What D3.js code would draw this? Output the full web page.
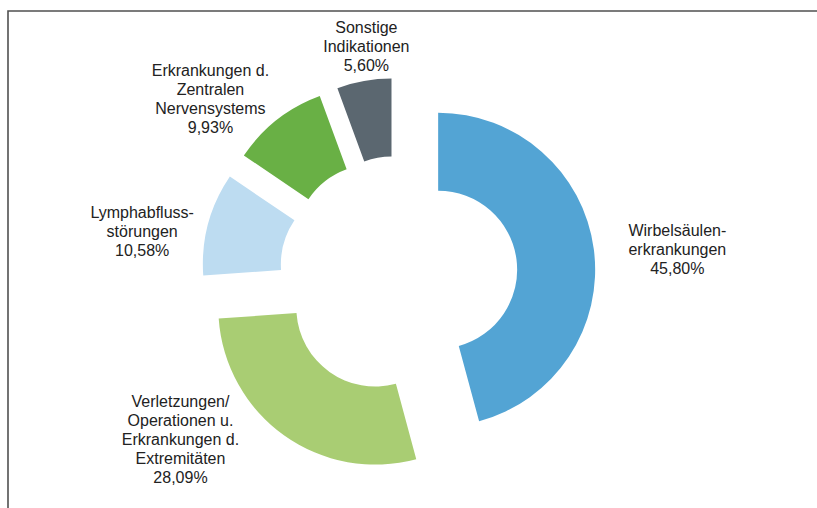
<!DOCTYPE html>
<html>
<head>
<meta charset="utf-8">
<script src="https://cdn.jsdelivr.net/npm/d3@7"></script>
<style>
  html, body { margin: 0; padding: 0; background: #fff; }
  svg { display: block; }
  text { font-family: Arial, "Liberation Sans", sans-serif; font-size: 16px; fill: #222; }
</style>
</head>
<body>
<div id="chart"></div>
<script>
// Indikationen, Reihenfolge im Uhrzeigersinn ab 12 Uhr
const categories = [
  ["Wirbelsäulen-", "erkrankungen"],
  ["Verletzungen/", "Operationen u.", "Erkrankungen d.", "Extremitäten"],
  ["Lymphabfluss-", "störungen"],
  ["Erkrankungen d.", "Zentralen", "Nervensystems"],
  ["Sonstige", "Indikationen"]
];
const values = [45.80, 28.09, 10.58, 9.93, 5.60];
const valueLabels = ["45,80%", "28,09%", "10,58%", "9,93%", "5,60%"];
const colors = ["#53a4d4", "#a9cd73", "#bddcf1", "#69b045", "#5b6770"];

// Beschriftungs-Lage (Winkel in Grad, Abstand vom Mittelpunkt)
const labelAngle = [84.8, 233, 279.6, 313.2, 352];
const labelRadius = [280, 273, 260, 258, 231];

const width = 817, height = 508;
const cx = 398.5, cy = 275;
const outerR = 157, innerR = 79, explode = 40;
const lineH = 19;

const svg = d3.select("#chart").append("svg")
  .attr("width", width).attr("height", height);

// Rahmen (oben + links)
svg.append("path")
  .attr("d", `M8,${height} L8,11 L${width},11`)
  .attr("fill", "none")
  .attr("stroke", "#505050")
  .attr("stroke-width", 1.6);

const pie = d3.pie().sort(null).value(d => d);
const arcs = pie(values);
const arc = d3.arc().innerRadius(innerR).outerRadius(outerR);

const g = svg.append("g").attr("transform", `translate(${cx},${cy})`);

// Segmente, jeweils entlang der Winkelhalbierenden herausgezogen
g.selectAll("path.slice")
  .data(arcs)
  .enter().append("path")
  .attr("class", "slice")
  .attr("fill", (d, i) => colors[i])
  .attr("d", arc)
  .attr("transform", d => {
    const a = (d.startAngle + d.endAngle) / 2;
    return `translate(${explode * Math.sin(a)},${-explode * Math.cos(a)})`;
  });

// Beschriftungen
const labels = g.selectAll("text.lbl")
  .data(arcs)
  .enter().append("text")
  .attr("class", "lbl")
  .attr("text-anchor", "middle")
  .each(function(d, i) {
    const a = labelAngle[i] * Math.PI / 180;
    const x = labelRadius[i] * Math.sin(a);
    const y = -labelRadius[i] * Math.cos(a);
    const lines = categories[i].concat([valueLabels[i]]);
    const y0 = y - (lines.length - 1) * lineH / 2 + 5.7;
    d3.select(this).selectAll("tspan")
      .data(lines)
      .enter().append("tspan")
      .attr("x", x)
      .attr("y", (t, k) => y0 + k * lineH)
      .text(t => t);
  });
</script>
</body>
</html>
